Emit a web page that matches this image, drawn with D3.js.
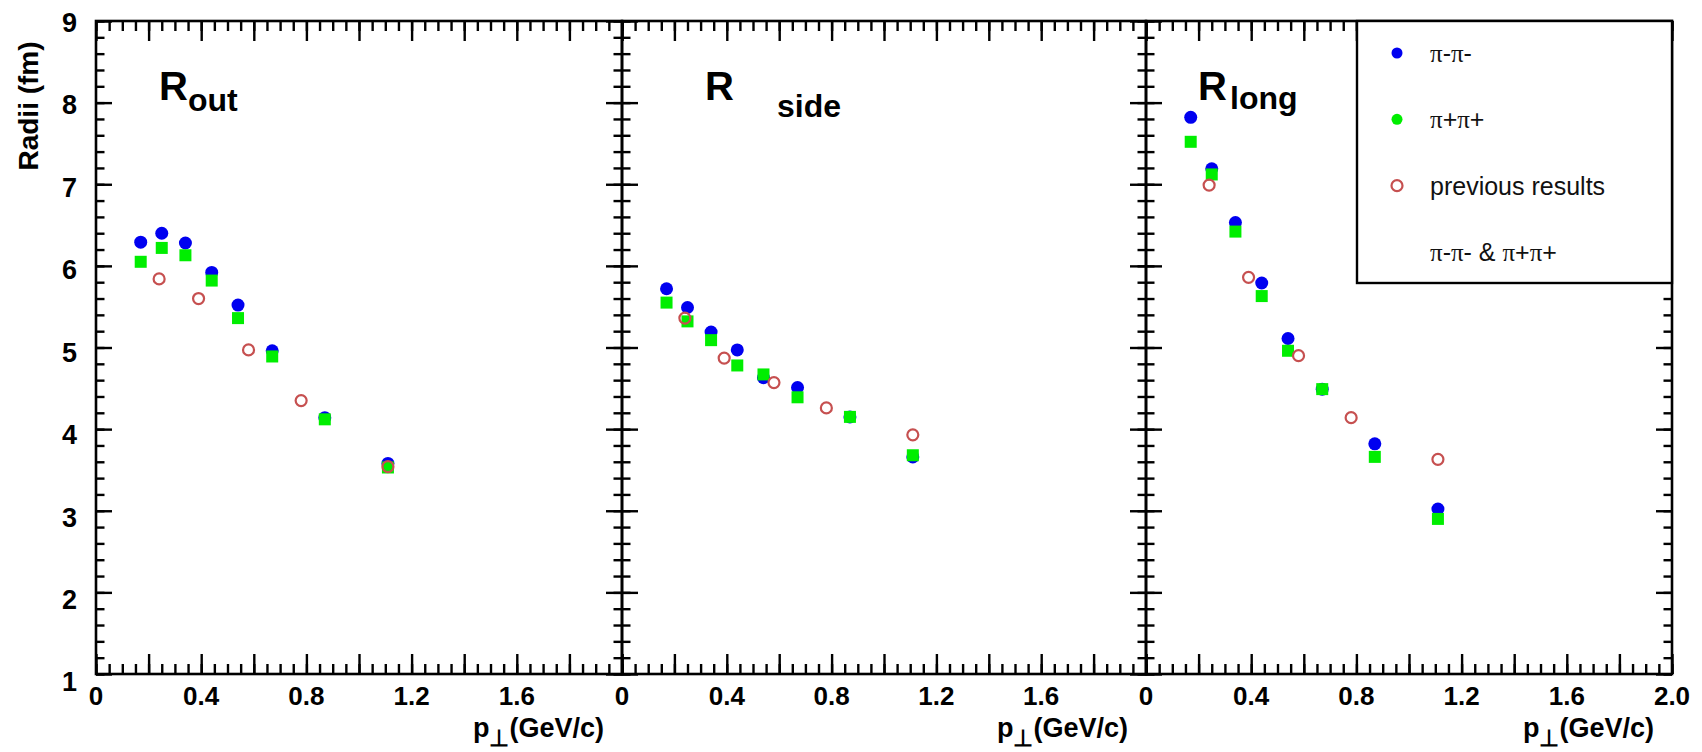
<!DOCTYPE html>
<html><head><meta charset="utf-8">
<script src="https://cdn.jsdelivr.net/npm/d3@7"></script>
<style>body{margin:0;background:#fff} svg{display:block}</style>
</head><body>
<svg id="c" width="1702" height="752"></svg>
<script>
// ---------------- data ----------------
const panelMain = ["R", "R", "R"];
const panelSub = ["out", "side", "long"];
const ptBins = [0.17, 0.25, 0.34, 0.44, 0.54, 0.67, 0.87, 1.11];
const ptPrev = [0.24, 0.39, 0.58, 0.78, 1.11];

const routMinus = [6.29, 6.40, 6.28, 5.92, 5.52, 4.96, 4.14, 3.58];
const routPlus  = [6.05, 6.22, 6.13, 5.82, 5.36, 4.89, 4.12, 3.53];
const routPrev  = [5.84, 5.60, 4.97, 4.35, 3.54];

const rsideMinus = [5.72, 5.49, 5.19, 4.97, 4.63, 4.51, 4.15, 3.66];
const rsidePlus  = [5.55, 5.32, 5.09, 4.78, 4.67, 4.39, 4.15, 3.68];
const rsidePrev  = [5.36, 4.87, 4.57, 4.26, 3.93];

const rlongMinus = [7.82, 7.19, 6.53, 5.79, 5.11, 4.49, 3.82, 3.02];
const rlongPlus  = [7.52, 7.12, 6.42, 5.63, 4.96, 4.49, 3.66, 2.90];
const rlongPrev  = [6.99, 5.86, 4.90, 4.14, 3.63];

const xTickValues = [0, 0.4, 0.8, 1.2, 1.6, 2.0];
const xTickLabels = ["0", "0.4", "0.8", "1.2", "1.6", "2.0"];
const yTickValues = [1, 2, 3, 4, 5, 6, 7, 8, 9];
const yTickLabels = ["1", "2", "3", "4", "5", "6", "7", "8", "9"];
const yTitle = "Radii (fm)";
const legendLabels = ["π-π-", "π+π+", "previous results", "π-π- & π+π+"];

// ---------------- layout ----------------
const svg = d3.select("#c");
const FONT = "'Liberation Sans', Arial, Helvetica, sans-serif";
const topY = 21, botY = 674;
const edges = [96, 622, 1146, 1672];
const BLUE = "#0000f0", GREEN = "#00ee00", RED = "#c65050";

const y = d3.scaleLinear().domain([1, 9]).range([botY, topY]);

const panels = [
  {minus: routMinus, plus: routPlus, prev: routPrev},
  {minus: rsideMinus, plus: rsidePlus, prev: rsidePrev},
  {minus: rlongMinus, plus: rlongPlus, prev: rlongPrev}
];

function styleAxis(g) {
  g.select(".domain").remove();
  g.selectAll(".tick line").attr("stroke", "#000").attr("stroke-width", 2.4);
  g.selectAll(".tick text").remove();
}

const titleLayout = [
  {rx: 159, sx: 188, base: 100, subBase: 111},
  {rx: 705, sx: 777, base: 100, subBase: 117},
  {rx: 1198, sx: 1230, base: 100, subBase: 109}
];

panels.forEach((p, i) => {
  const x = d3.scaleLinear().domain([0, 2]).range([edges[i], edges[i + 1]]);
  const g = svg.append("g");
  const majorX = d3.range(0, 2.0001, 0.2);
  const minorX = d3.range(0, 2.0001, 0.05);
  const majorY = d3.range(1, 9.0001, 1);
  const minorY = d3.range(1, 9.0001, 0.2);

  g.append("g").attr("transform", `translate(0,${botY})`)
    .call(d3.axisBottom(x).tickValues(minorX).tickSize(-10).tickFormat(""))
    .call(styleAxis);
  g.append("g").attr("transform", `translate(0,${botY})`)
    .call(d3.axisBottom(x).tickValues(majorX).tickSize(-20).tickFormat(""))
    .call(styleAxis);
  g.append("g").attr("transform", `translate(0,${topY})`)
    .call(d3.axisTop(x).tickValues(minorX).tickSize(-10).tickFormat(""))
    .call(styleAxis);
  g.append("g").attr("transform", `translate(0,${topY})`)
    .call(d3.axisTop(x).tickValues(majorX).tickSize(-20).tickFormat(""))
    .call(styleAxis);
  g.append("g").attr("transform", `translate(${edges[i]},0)`)
    .call(d3.axisLeft(y).tickValues(minorY).tickSize(-8.5).tickFormat(""))
    .call(styleAxis);
  g.append("g").attr("transform", `translate(${edges[i]},0)`)
    .call(d3.axisLeft(y).tickValues(majorY).tickSize(-16).tickFormat(""))
    .call(styleAxis);
  g.append("g").attr("transform", `translate(${edges[i + 1]},0)`)
    .call(d3.axisRight(y).tickValues(minorY).tickSize(-8.5).tickFormat(""))
    .call(styleAxis);
  g.append("g").attr("transform", `translate(${edges[i + 1]},0)`)
    .call(d3.axisRight(y).tickValues(majorY).tickSize(-16).tickFormat(""))
    .call(styleAxis);

  // frame
  g.append("rect").attr("x", edges[i]).attr("y", topY)
    .attr("width", edges[i + 1] - edges[i]).attr("height", botY - topY)
    .attr("fill", "none").attr("stroke", "#000").attr("stroke-width", 2.6);

  // x tick labels
  const nLab = i === 2 ? xTickValues.length : xTickValues.length - 1;
  g.selectAll(".xl").data(xTickValues.slice(0, nLab)).enter().append("text")
    .attr("x", d => x(d)).attr("y", 705)
    .attr("text-anchor", "middle")
    .attr("font-family", FONT).attr("font-weight", "bold").attr("font-size", 26)
    .text((d, k) => xTickLabels[k]);

  // x title
  const xt = g.append("text").attr("x", edges[i + 1] - 18).attr("y", 737)
    .attr("text-anchor", "end")
    .attr("font-family", FONT).attr("font-weight", "bold").attr("font-size", 27);
  xt.append("tspan").text("p");
  xt.append("tspan").attr("dy", 9).attr("font-size", 23).text("⊥");
  xt.append("tspan").attr("dy", -9).text("(GeV/c)");

  // panel title
  const tl = titleLayout[i];
  g.append("text").attr("x", tl.rx).attr("y", tl.base)
    .attr("font-family", FONT).attr("font-weight", "bold").attr("font-size", 40)
    .text(panelMain[i]);
  g.append("text").attr("x", tl.sx).attr("y", tl.subBase)
    .attr("font-family", FONT).attr("font-weight", "bold").attr("font-size", 32)
    .text(panelSub[i]);

  // markers: blue circles, green squares, red open circles
  g.selectAll(".bm").data(p.minus).enter().append("circle")
    .attr("cx", (d, k) => x(ptBins[k])).attr("cy", d => y(d))
    .attr("r", 6.5).attr("fill", BLUE);
  g.selectAll(".gp").data(p.plus).enter().append("rect")
    .attr("x", (d, k) => x(ptBins[k]) - 6).attr("y", d => y(d) - 6)
    .attr("width", 12).attr("height", 12).attr("fill", GREEN);
  g.selectAll(".rp").data(p.prev).enter().append("circle")
    .attr("cx", (d, k) => x(ptPrev[k])).attr("cy", d => y(d))
    .attr("r", 5.5).attr("fill", "none").attr("stroke", RED).attr("stroke-width", 2.2);
});

// y tick labels
svg.selectAll(".yl").data(yTickValues).enter().append("text")
  .attr("x", 77).attr("y", d => y(d) + 11 + (9 - d) * 0.8)
  .attr("text-anchor", "end")
  .attr("font-family", FONT).attr("font-weight", "bold").attr("font-size", 27)
  .text((d, k) => yTickLabels[k]);

// y title
svg.append("text")
  .attr("transform", "translate(38,106) rotate(-90)")
  .attr("text-anchor", "middle")
  .attr("font-family", FONT).attr("font-weight", "bold").attr("font-size", 28)
  .text(yTitle);

// legend
const lg = svg.append("g");
lg.append("rect").attr("x", 1357).attr("y", topY).attr("width", 1672 - 1357).attr("height", 283 - topY)
  .attr("fill", "#fff").attr("stroke", "#000").attr("stroke-width", 2.4);
const legY = d3.scaleLinear().domain([0, 3]).range([53, 252]);
const legColors = [BLUE, GREEN, RED, null];
legendLabels.forEach((lab, k) => {
  const cy = legY(k);
  if (k < 2) lg.append("circle").attr("cx", 1397).attr("cy", cy).attr("r", 5.5).attr("fill", legColors[k]);
  else if (k === 2) lg.append("circle").attr("cx", 1397).attr("cy", cy).attr("r", 5.5)
    .attr("fill", "none").attr("stroke", RED).attr("stroke-width", 2.2);
  const t = lg.append("text").attr("x", 1430).attr("y", cy + 9)
    .attr("font-family", FONT).attr("font-size", 25).attr("fill", "#111");
  const parts = lab.split(/(π)/);
  parts.forEach(s => {
    if (!s) return;
    const ts = t.append("tspan").text(s);
    if (s === "π") ts.attr("font-family", "'Liberation Serif', 'Times New Roman', serif");
  });
});
</script>
</body></html>
